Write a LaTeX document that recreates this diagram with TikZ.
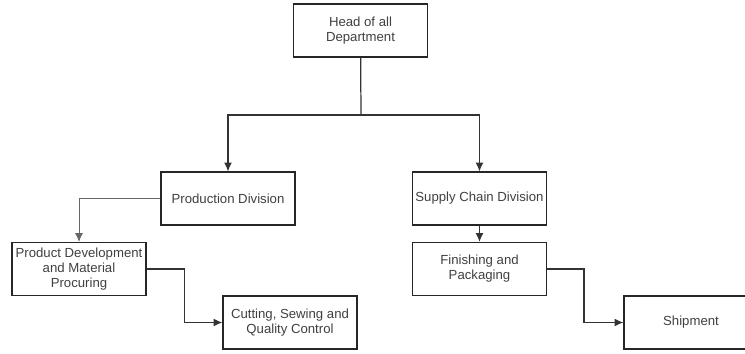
\documentclass[tikz,border=0pt]{standalone}
\usepackage{fontspec}
\setmainfont{Liberation Sans}
\usetikzlibrary{arrows.meta,positioning}

\begin{document}
\begin{tikzpicture}[x=0.02cm,y=-0.02cm,
  box/.style={draw=black!85,line width=0.7pt,minimum width=2.68cm,minimum height=1.06cm,
    align=center,font=\fontsize{7.5}{8.6}\selectfont,text=black!75,inner sep=1pt},
  arr/.style={draw=black!80,line width=0.7pt,-{Latex[length=5pt,width=4.5pt]}}]
\useasboundingbox (0,0) rectangle (745,353);
\node[box] (head) at (360.5,30.5) {Head of all\\Department};
\node[box] (prod) at (228,198.5) {Production Division};
\node[box] (supply) at (479.5,198.5) {Supply Chain Division};
\node[box] (pd) at (79,269) {Product Development\\and Material\\Procuring};
\node[box] (fin) at (479.5,269) {Finishing and\\Packaging};
\node[box] (cut) at (290,322.5) {Cutting, Sewing and\\Quality Control};
\node[box] (ship) at (691,322.5) {Shipment};
\coordinate (split) at (361,115);
\draw[draw=black!80,line width=0.7pt] (head) -- (split);
\draw[arr] (split) -| (prod);
\draw[arr] (split) -| (supply);
\draw[arr] (supply) -- (fin);
\draw[arr,draw=black!60,line width=0.45pt] (prod.west) -| (pd.north);
\draw[arr] (pd.east) -- ++(38,0) |- (cut.west);
\draw[arr] (fin.east) -- ++(37,0) |- (ship.west);
\end{tikzpicture}
\end{document}
